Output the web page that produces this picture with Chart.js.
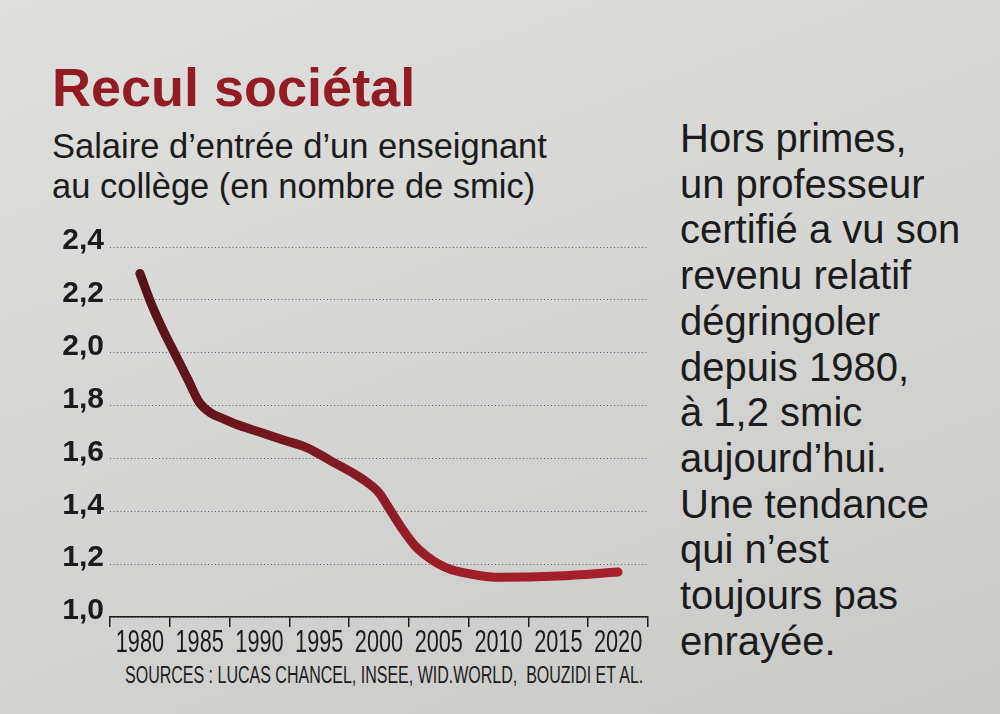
<!DOCTYPE html>
<html lang="fr">
<head>
<meta charset="utf-8">
<script src="https://cdn.jsdelivr.net/npm/chart.js@4.4.1/dist/chart.umd.min.js"></script>
<style>
    html, body { margin: 0; padding: 0; }
    body {
        width: 1000px; height: 714px; overflow: hidden; position: relative;
        background: linear-gradient(160deg, #dfdfdd 0%, #d6d6d4 45%, #c9c9c7 100%);
        color: #1b1b1b;
        font-family: "Liberation Sans", Arial, sans-serif;
    }
    #title {
        position: absolute; left: 52px; top: 56px;
        font-weight: bold; font-size: 54px; color: #931b22;
    }
    #subtitle {
        position: absolute; left: 52px; top: 126px;
        font-size: 34.5px; line-height: 40px;
    }
    #note {
        position: absolute; left: 680px; top: 116px;
        font-size: 40px; line-height: 45.7px;
    }
    #sources {
        position: absolute; left: 125px; top: 662px;
        font-size: 23px; white-space: nowrap;
        transform: scaleX(0.696); transform-origin: left top;
    }
    #wrap { position: absolute; left: 0; top: 0; width: 660px; height: 714px; }
</style>
</head>
<body>
<div id="title">Recul sociétal</div>
<div id="subtitle">Salaire d’entrée d’un enseignant<br>au collège (en nombre de smic)</div>
<div id="note">Hors primes,<br>un professeur<br>certifié a vu son<br>revenu relatif<br>dégringoler<br>depuis 1980,<br>à 1,2 smic<br>aujourd’hui.<br>Une tendance<br>qui n’est<br>toujours pas<br>enrayée.</div>
<div id="sources">SOURCES : LUCAS CHANCEL, INSEE, WID.WORLD,&nbsp; BOUZIDI ET AL.</div>
<div id="wrap"><canvas id="lineChart"></canvas></div>
<script>
const tickYears = ['1980', '1985', '1990', '1995', '2000', '2005', '2010', '2015', '2020'];

const years = [1980, 1981, 1982, 1983, 1984, 1985, 1986, 1987, 1988, 1990, 1992, 1994, 1996, 1998, 1999,
    2000, 2001, 2002, 2003, 2004, 2005, 2006, 2008, 2010, 2015, 2020];
const smic = [2.30, 2.18, 2.08, 1.99, 1.90, 1.81, 1.77, 1.75, 1.73, 1.70, 1.67, 1.64, 1.59, 1.54, 1.51,
    1.47, 1.40, 1.33, 1.27, 1.23, 1.20, 1.18, 1.16, 1.15, 1.155, 1.17];

const yMin = 1.0;
const yMax = 2.4;

const textClr = '#1b1b1b';
const fontName = '"Liberation Sans", Arial, sans-serif';

var points = [];
for (var i = 0; i < years.length; i++) {
    points.push({ x: years[i], y: smic[i] });
}

function lineGradient(context) {
    var area = context.chart.chartArea;
    if (!area) {
        return '#8a1c24';
    }
    var g = context.chart.ctx.createLinearGradient(area.left, 0, area.right, 0);
    g.addColorStop(0, '#4f1316');
    g.addColorStop(0.45, '#851a22');
    g.addColorStop(0.65, '#a01e29');
    g.addColorStop(1, '#a9202d');
    return g;
}

// year labels are a condensed face in the print version: squeeze them horizontally
const condensedTicks = {
    id: 'condensedTicks',
    afterLayout: function (chart) {
        var scale = chart.scales.x;
        if (scale.squeezed) {
            return;
        }
        var drawLabels = scale.drawLabels;
        scale.drawLabels = function (area) {
            var ctx = chart.ctx;
            ctx.fillText = function (txt, x, y) {
                ctx.save();
                ctx.translate(x, y);
                ctx.scale(0.7, 1);
                CanvasRenderingContext2D.prototype.fillText.call(ctx, txt, 0, 0);
                ctx.restore();
            };
            drawLabels.call(scale, area);
            delete ctx.fillText;
        };
        scale.squeezed = true;
    }
};

const lineConfig = {
    type: 'line',
    data: {
        labels: tickYears,
        datasets: [{
            data: points,
            xAxisID: 'xData',
            borderColor: lineGradient,
            borderWidth: 9,
            borderCapStyle: 'round',
            borderJoinStyle: 'round',
            cubicInterpolationMode: 'monotone',
            pointRadius: 0,
            fill: false
        }]
    },
    options: {
        responsive: false,
        animation: false,
        layout: {
            padding: { top: 247, right: 12, left: 0, bottom: 0 }
        },
        scales: {
            xData: {
                type: 'linear',
                display: false,
                min: 1977.5,
                max: 2022.5
            },
            x: {
                type: 'category',
                offset: true,
                afterFit: function (scale) { scale.height = 97; },
                border: { display: true, color: textClr, width: 1.5 },
                grid: {
                    offset: true,
                    drawOnChartArea: false,
                    drawTicks: true,
                    tickLength: 10,
                    color: textClr,
                    lineWidth: 1.5
                },
                ticks: {
                    color: textClr,
                    padding: -2,
                    maxRotation: 0,
                    autoSkip: false,
                    font: { family: fontName, size: 31 }
                }
            },
            y: {
                min: yMin,
                max: yMax,
                afterFit: function (scale) { scale.width = 110; },
                border: { display: false, dash: [1, 2.5] },
                grid: {
                    drawTicks: false,
                    color: 'rgba(45,45,45,0.7)',
                    lineWidth: 1
                },
                ticks: {
                    stepSize: 0.2,
                    padding: 6,
                    labelOffset: -6,
                    color: textClr,
                    font: { family: fontName, size: 30, weight: 'bold' },
                    callback: function (v) { return v.toFixed(1).replace('.', ','); }
                }
            }
        },
        plugins: {
            legend: { display: false },
            tooltip: { enabled: false }
        }
    },
    plugins: [condensedTicks]
};

var cv = document.getElementById('lineChart');
cv.width = 660;
cv.height = 714;
new Chart(cv, lineConfig);
</script>
</body>
</html>
